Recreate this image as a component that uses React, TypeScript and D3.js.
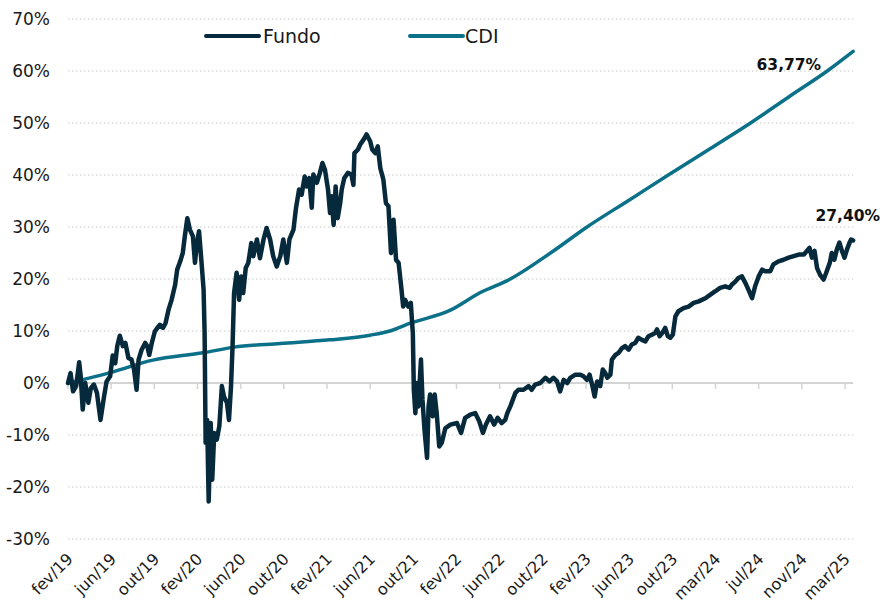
import React from "react";
import * as d3 from "d3";

const xTickLabels = ["fev/19","jun/19","out/19","fev/20","jun/20","out/20","fev/21","jun/21","out/21","fev/22","jun/22","out/22","fev/23","jun/23","out/23","mar/24","jul/24","nov/24","mar/25"];
const daysPerTick = 85;
const yTicks = [-30,-20,-10,0,10,20,30,40,50,60,70];

// [trading day, cumulative return %]
const fundo: [number, number][] = [[0,0],[5,1.9],[10,-1.6],[16,-0.6],[22,4.0],[25,1.3],[29,-5.1],[34,0],[40,-3.8],[45,-1],[51,-0.3],[57,-1.9],[64,-7.1],[71,-2.6],[76,0.3],[83,1.3],[88,5.3],[93,3.8],[97,7.1],[102,9.1],[108,7.1],[113,7.7],[119,4.8],[125,4.5],[130,2.6],[135,-1.3],[139,4.5],[145,6.4],[152,7.7],[156,7.1],[160,5.4],[165,7.7],[171,9.9],[176,10.6],[181,11.2],[187,10.6],[192,11.5],[198,14.1],[204,16],[211,18.9],[215,21.8],[221,23.4],[226,25],[230,28.2],[235,31.7],[240,29.5],[246,28.2],[250,23.1],[254,26.9],[258,29.2],[263,23.1],[267,17.9],[269,9.6],[271,-11.5],[274,-7.1],[277,-22.8],[281,-7.7],[284,-18.6],[288,-9.6],[293,-10.9],[298,-8.3],[303,-0.6],[307,-2.6],[313,-3.8],[317,-7.1],[321,-0.6],[324,7],[327,17.3],[332,21.2],[337,16],[341,20.5],[345,17.3],[350,22.1],[355,23.1],[361,26.9],[365,24.4],[372,27.6],[378,24],[385,27.6],[391,29.8],[398,27.6],[404,24.4],[411,22.4],[418,24.4],[424,27.6],[431,23.1],[436,27.6],[444,29.5],[449,33.7],[455,37.2],[460,36.2],[466,39.7],[470,37.8],[475,39.4],[480,33.7],[483,40.1],[490,38.5],[496,40.4],[501,42.3],[506,41],[512,37.2],[516,32.7],[519,35.9],[523,30.4],[527,37.8],[531,31.7],[536,34.6],[539,37.2],[544,39.4],[551,40.4],[558,40.1],[562,38.1],[564,44.2],[571,44.9],[575,45.8],[582,46.8],[588,47.8],[595,46.5],[599,44.9],[605,44.2],[610,45.5],[615,41.3],[621,39.1],[626,34.6],[631,34],[636,25],[641,31.4],[646,23.7],[651,23.1],[656,18.6],[660,14.7],[664,16],[670,14.7],[675,15.4],[679,9.6],[681,-1.3],[684,-5.8],[687,0],[690,-4.5],[695,4.5],[698,-3.2],[702,-9],[707,-14.4],[710,-4.5],[713,-2.2],[718,-6.4],[722,-2.2],[726,-5.8],[731,-12.2],[736,-11.5],[743,-8.7],[753,-8],[766,-7.7],[774,-9.6],[782,-6.7],[792,-6.1],[802,-5.8],[810,-7.4],[817,-9.6],[823,-8],[831,-6.4],[839,-8],[846,-6.7],[854,-7.7],[861,-7.1],[865,-5.8],[871,-4.5],[881,-1.9],[887,-1.3],[897,-1.3],[907,-0.6],[913,-1.3],[920,-0.3],[930,0],[940,1],[948,0.3],[956,1],[963,0.3],[969,-1.6],[976,0.6],[983,0],[989,1],[999,1.6],[1009,1.6],[1015,1.3],[1022,0.6],[1027,1.6],[1032,-0.3],[1037,-2.6],[1042,0.3],[1048,-0.6],[1053,2.6],[1058,1.9],[1062,1],[1068,1.6],[1071,4.5],[1078,5.4],[1084,5.8],[1091,6.7],[1097,7.1],[1104,6.4],[1110,7.4],[1117,7.7],[1123,8.7],[1130,8.3],[1137,8],[1143,9],[1150,9.3],[1156,9.6],[1160,10.3],[1165,9],[1170,9.6],[1176,10.6],[1181,9],[1186,8.7],[1191,9.3],[1196,12.8],[1202,13.8],[1212,14.4],[1222,14.7],[1232,15.4],[1242,15.7],[1255,16.3],[1265,17],[1274,17.6],[1284,18.3],[1294,18.6],[1303,18.3],[1307,18.9],[1314,19.5],[1320,20.2],[1327,20.5],[1334,19.2],[1340,17.9],[1347,16.3],[1353,18.6],[1360,20.5],[1367,21.8],[1373,21.5],[1383,21.5],[1389,22.8],[1399,23.4],[1409,23.7],[1419,24.1],[1429,24.4],[1439,24.7],[1449,24.7],[1455,25.4],[1460,26],[1465,24.1],[1470,25.4],[1475,22.1],[1481,20.8],[1488,19.9],[1493,21.2],[1500,23.1],[1504,25],[1509,23.7],[1514,25.7],[1519,27],[1524,25.4],[1529,24.1],[1534,25.7],[1539,27],[1542,27.6],[1546,27.4]];

const cdi: [number, number][] = [[0,0],[87,2.1],[167,4.4],[266,5.8],[327,6.9],[418,7.6],[516,8.3],[595,9.2],[634,10],[674,11.5],[753,14],[812,17.4],[871,20],[950,25],[1022,30],[1107,35.3],[1182,40],[1265,45.1],[1344,50],[1422,55.2],[1495,60],[1546,63.77]];

const fundoLabel = "27,40%";
const cdiLabel = "63,77%";

const FUNDO_COLOR = "#062a3b";
const CDI_COLOR = "#0b7189";
const FONT = "'DejaVu Sans', Verdana, sans-serif";

export default function App() {
  const W = 882, H = 606;
  const lastTickDay = daysPerTick * (xTickLabels.length - 1);
  const x = d3.scaleLinear().domain([0, lastTickDay]).range([68, 845]);
  const y = d3.scaleLinear().domain([-30, 70]).range([539, 19]);
  const plotRight = x(1546);

  const fundoLine = d3.line<[number, number]>().x(d => x(d[0])).y(d => y(d[1])).curve(d3.curveLinear);
  const cdiLine = d3.line<[number, number]>().x(d => x(d[0])).y(d => y(d[1])).curve(d3.curveMonotoneX);

  const lastF = fundo[fundo.length - 1];
  const lastC = cdi[cdi.length - 1];

  return (
    <div style={{ position: "fixed", left: 0, top: 0, width: W, height: H, background: "#fff" }}>
      <svg width={W} height={H} style={{ display: "block" }} fontFamily={FONT}>
        {yTicks.map(t => (
          <g key={t}>
            {t !== 0 && (
              <line x1={68} x2={plotRight} y1={y(t)} y2={y(t)} stroke="#c9c9c9" strokeWidth={1.2} strokeDasharray="1.5,2.5" />
            )}
            <text x={50} y={y(t)} dy="0.35em" textAnchor="end" fontSize={17} fill="#1a1a1a">{`${t}%`}</text>
          </g>
        ))}
        <line x1={68} x2={plotRight} y1={y(0)} y2={y(0)} stroke="#d4d4d4" strokeWidth={2} />
        {xTickLabels.map((lab, i) => {
          const tx = x(i * daysPerTick);
          return (
            <g key={lab}>
              <line x1={tx} x2={tx} y1={y(0)} y2={y(0) + 6} stroke="#d4d4d4" strokeWidth={1.5} />
              <text transform={`translate(${tx + 6},${560}) rotate(-45)`} textAnchor="end" fontSize={16} fill="#1a1a1a">{lab}</text>
            </g>
          );
        })}
        <path d={cdiLine(cdi) || ""} fill="none" stroke={CDI_COLOR} strokeWidth={3.5} strokeLinejoin="round" strokeLinecap="round" />
        <path d={fundoLine(fundo) || ""} fill="none" stroke={FUNDO_COLOR} strokeWidth={4.5} strokeLinejoin="round" strokeLinecap="round" />

        <text x={x(lastC[0]) - 32} y={y(lastC[1]) + 19} textAnchor="end" fontSize={15.5} fontWeight="bold" fill="#111">{cdiLabel}</text>
        <text x={880} y={y(lastF[1]) - 20} textAnchor="end" fontSize={15.5} fontWeight="bold" fill="#111">{fundoLabel}</text>

        <line x1={206} x2={259} y1={36} y2={36} stroke={FUNDO_COLOR} strokeWidth={4} strokeLinecap="round" />
        <text x={263} y={36} dy="0.36em" fontSize={19} fill="#1a1a1a">Fundo</text>
        <line x1={410} x2={463} y1={36} y2={36} stroke={CDI_COLOR} strokeWidth={4} strokeLinecap="round" />
        <text x={465} y={36} dy="0.36em" fontSize={19} fill="#1a1a1a">CDI</text>
      </svg>
    </div>
  );
}
